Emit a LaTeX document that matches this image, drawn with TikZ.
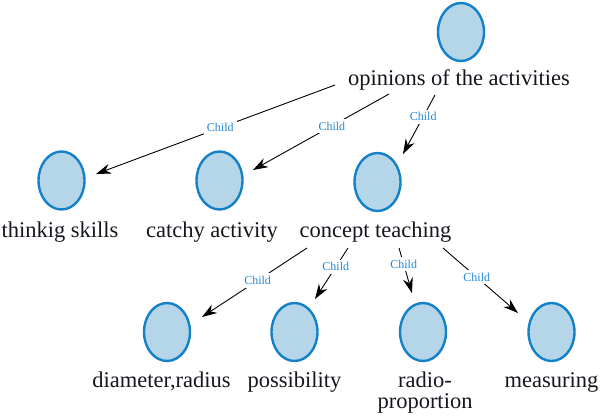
\documentclass[tikz,border=0pt]{standalone}
\usepackage{fontspec}
\setmainfont{Liberation Serif}
\usetikzlibrary{arrows.meta,shapes.geometric}
\definecolor{ringblue}{RGB}{20,128,200}
\definecolor{fillblue}{RGB}{180,214,232}
\definecolor{labblue}{RGB}{35,135,215}
\definecolor{txt}{RGB}{25,20,30}
\tikzset{
  bubble/.style={ellipse,draw=ringblue,fill=fillblue,line width=2.4pt,minimum width=46pt,minimum height=58pt,inner sep=0pt},
  caption/.style={text=txt,font=\fontsize{22.5}{20.5}\selectfont,inner sep=1pt,align=center},
  link/.style={draw=black,line width=0.9pt,-{Stealth[length=15pt,width=10pt]}},
  tag/.style={text=labblue,font=\fontsize{12}{13}\selectfont,fill=white,inner sep=3pt}
}
\begin{document}
\begin{tikzpicture}[x=1pt,y=-1pt]
\useasboundingbox (0,0) rectangle (600,416);
% nodes
\node[bubble] (root) at (461,32) {};
\node[caption,anchor=base] (op) at (459,85) {opinions of the activities};
\node[bubble] (th) at (61.5,180.5) {};
\node[caption,anchor=base] (tht) at (60,237) {thinkig skills};
\node[bubble] (ca) at (219.5,180.5) {};
\node[caption,anchor=base] (cat) at (212,237) {catchy activity};
\node[bubble] (ct) at (377.5,182) {};
\node[caption,anchor=base] (ctt) at (375.5,237) {concept teaching};
\node[bubble] (dr) at (167,332) {};
\node[caption,anchor=base] (drt) at (161.5,387) {diameter,radius};
\node[bubble] (po) at (294.5,332) {};
\node[caption,anchor=base] (pot) at (294.5,387) {possibility};
\node[bubble] (rr) at (423,332) {};
\node[caption] (rrt) at (425,392.5) {radio-\\proportion};
\node[bubble] (me) at (551.5,332) {};
\node[caption,anchor=base] (met) at (551.5,387) {measuring};
% connectors
\draw[link] ([xshift=-124pt]op.base) -- node[tag,pos=0.48]{Child} ([xshift=34.5pt,yshift=6.5pt]th.center);
\draw[link] ([xshift=-70pt,yshift=-9pt]op.base) -- node[tag,pos=0.42]{Child} ([xshift=33.5pt,yshift=10.5pt]ca.center);
\draw[link] ([xshift=-24pt,yshift=-10pt]op.base) -- node[tag,pos=0.37]{Child} ([xshift=25.5pt,yshift=28pt]ct.center);
\draw[link] ([xshift=-68.5pt,yshift=-11pt]ctt.base) -- node[tag,pos=0.47]{Child} ([xshift=35pt,yshift=15pt]dr.center);
\draw[link] ([xshift=-27.5pt,yshift=-11pt]ctt.base) -- node[tag,pos=0.37]{Child} ([xshift=20.5pt,yshift=33pt]po.center);
\draw[link] ([xshift=23.5pt,yshift=-11pt]ctt.base) -- node[tag,pos=0.36]{Child} ([xshift=-11pt,yshift=39pt]rr.center);
\draw[link] ([xshift=67.5pt,yshift=-11pt]ctt.base) -- node[tag,pos=0.45]{Child} ([xshift=-33.5pt,yshift=19pt]me.center);
\end{tikzpicture}
\end{document}
